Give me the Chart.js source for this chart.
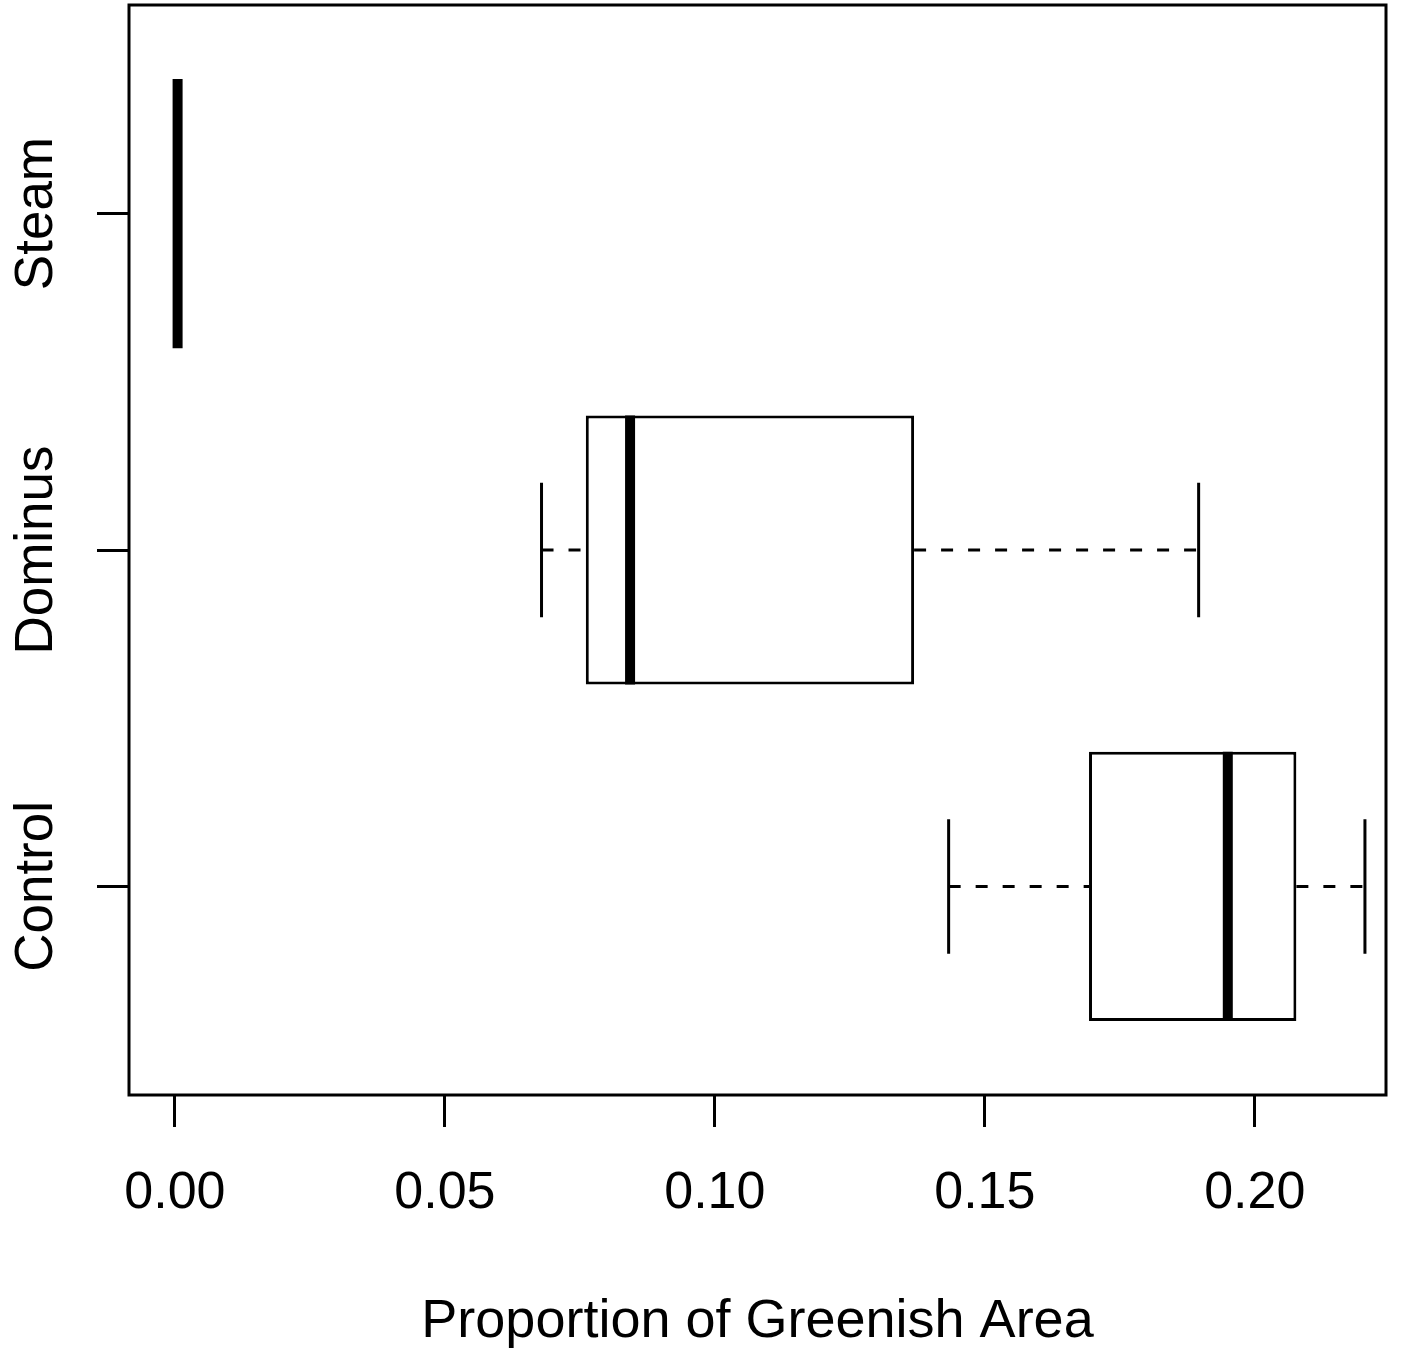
<!DOCTYPE html>
<html>
<head>
<meta charset="utf-8">
<script src="https://cdn.jsdelivr.net/npm/chart.js@4/dist/chart.umd.min.js"></script>
<style>
  html, body { margin: 0; padding: 0; background: #fff; }
  #wrap { width: 1418px; height: 1352px; }
</style>
</head>
<body>
<div id="wrap"><canvas id="boxChart"></canvas></div>
<script>
// groups from bottom to top, as R draws them
var groups = ['Control', 'Dominus', 'Steam'];
var positions = [1, 2, 3];
var whiskerLow = [0.1433, 0.0679, 0.0005];
var q1 = [0.1693, 0.0761, 0.0005];
var median = [0.1950, 0.0843, 0.0005];
var q3 = [0.2077, 0.1369, 0.0005];
var whiskerHigh = [0.2204, 0.1896, 0.0005];
var xTicks = [0, 0.05, 0.10, 0.15, 0.20];

var FONT = "'Liberation Sans', Arial, Helvetica, sans-serif";
var halfBox = 0.4;
var halfStaple = 0.2;
var gap = { x: NaN, y: NaN };

var boxData = [], medData = [], whiskData = [], capData = [];
for (var i = 0; i < groups.length; i++) {
    var p = positions[i];
    boxData.push({ x: [q1[i], q3[i]], y: p });
    medData.push({ x: median[i], y: p - halfBox }, { x: median[i], y: p + halfBox }, gap);
    whiskData.push({ x: whiskerLow[i], y: p }, { x: q1[i], y: p }, gap,
                   { x: q3[i], y: p }, { x: whiskerHigh[i], y: p }, gap);
    capData.push({ x: whiskerLow[i], y: p - halfStaple }, { x: whiskerLow[i], y: p + halfStaple }, gap,
                 { x: whiskerHigh[i], y: p - halfStaple }, { x: whiskerHigh[i], y: p + halfStaple }, gap);
}

var framePlugin = {
    id: 'frame',
    afterDraw: function(chart) {
        var ctx = chart.ctx, a = chart.chartArea, ys = chart.scales.y;
        ctx.save();
        ctx.strokeStyle = '#000';
        ctx.lineWidth = 3;
        ctx.strokeRect(a.left, a.top, a.right - a.left, a.bottom - a.top);
        // rotated group labels on the left axis
        ctx.fillStyle = '#000';
        ctx.font = '53px ' + FONT;
        ctx.textAlign = 'center';
        ctx.textBaseline = 'alphabetic';
        for (var i = 0; i < groups.length; i++) {
            var py = ys.getPixelForValue(positions[i]);
            ctx.save();
            ctx.translate(52, py);
            ctx.rotate(-Math.PI / 2);
            ctx.fillText(groups[i], 0, 0);
            ctx.restore();
        }
        ctx.restore();
    }
};

var lineBase = {
    type: 'line',
    indexAxis: 'y',
    borderColor: '#000',
    pointRadius: 0,
    pointHoverRadius: 0,
    fill: false,
    spanGaps: false,
    tension: 0
};

new Chart(document.getElementById('boxChart').getContext('2d'), {
    type: 'bar',
    data: {
        datasets: [
            Object.assign({}, lineBase, { label: 'median', data: medData, borderWidth: 10, borderCapStyle: 'butt', order: 0 }),
            Object.assign({}, lineBase, { label: 'staple', data: capData, borderWidth: 3, order: 1 }),
            Object.assign({}, lineBase, { label: 'whisker', data: whiskData, borderWidth: 3, borderDash: [12, 15], order: 2 }),
            {
                type: 'bar',
                label: 'box',
                data: boxData,
                indexAxis: 'y',
                backgroundColor: '#fff',
                borderColor: '#000',
                borderWidth: 3,
                borderSkipped: false,
                barPercentage: 0.8,
                categoryPercentage: 1,
                order: 3
            }
        ]
    },
    options: {
        indexAxis: 'y',
        responsive: true,
        maintainAspectRatio: false,
        animation: false,
        events: [],
        layout: { padding: { top: 5, right: 32, left: 0, bottom: 0 } },
        plugins: { legend: { display: false }, tooltip: { enabled: false } },
        scales: {
            x: {
                type: 'linear',
                position: 'bottom',
                min: -0.0085,
                max: 0.2243,
                offset: false,
                afterFit: function(s) { s.height = 257; },
                afterBuildTicks: function(s) { s.ticks = xTicks.map(function(v) { return { value: v }; }); },
                border: { display: false },
                grid: { display: true, offset: false, drawOnChartArea: false, drawTicks: true, tickLength: 32, tickWidth: 3, tickColor: '#000' },
                ticks: {
                    color: '#000',
                    padding: 35,
                    maxRotation: 0,
                    font: { family: FONT, size: 52 },
                    callback: function(v) { return v.toFixed(2); }
                },
                title: {
                    display: true,
                    text: 'Proportion of Greenish Area',
                    color: '#000',
                    font: { family: FONT, size: 54 },
                    padding: { top: 0, bottom: -3 }
                }
            },
            y: {
                type: 'linear',
                position: 'left',
                min: 0.38,
                max: 3.62,
                offset: false,
                afterFit: function(s) { s.width = 129; },
                afterBuildTicks: function(s) { s.ticks = positions.map(function(v) { return { value: v }; }); },
                border: { display: false },
                grid: { display: true, offset: false, drawOnChartArea: false, drawTicks: true, tickLength: 32, tickWidth: 3, tickColor: '#000' },
                ticks: { display: false }
            }
        }
    },
    plugins: [framePlugin]
});
</script>
</body>
</html>
